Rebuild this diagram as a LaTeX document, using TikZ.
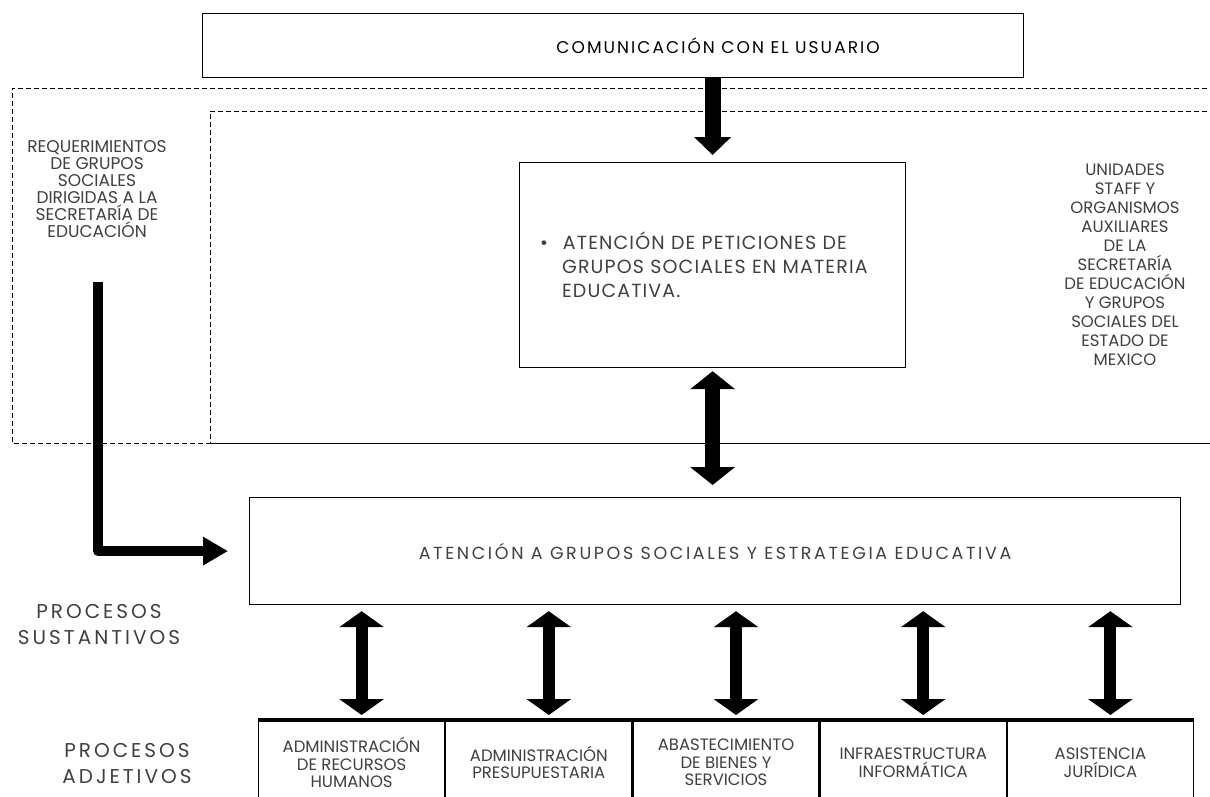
\documentclass[tikz,border=0pt]{standalone}
\usepackage{fontspec}
\setmainfont{Poppins}
\newfontfamily\tracksmall[LetterSpace=6]{Poppins}
\newfontfamily\trackmid[LetterSpace=12]{Poppins}
\newfontfamily\trackwide[LetterSpace=15]{Poppins}
\usetikzlibrary{arrows.meta, positioning}

\tikzset{
  box/.style={draw, line width=1.2pt, inner sep=0pt, anchor=north west},
  cell/.style={draw, line width=1.2pt, inner sep=0pt, anchor=north west,
    minimum width=186pt, minimum height=84pt, font=\fontsize{16.5}{17.5}\selectfont},
  fatarrow/.style={line width=16pt, -{Triangle[width=36pt, length=18pt]}},
  twoway/.style={line width=15pt, {Triangle[width=44pt, length=18pt]}-{Triangle[width=44pt, length=18pt]}},
  smallway/.style={line width=12pt, {Triangle[width=44pt, length=16pt]}-{Triangle[width=44pt, length=16pt]}},
  elbowarrow/.style={line width=10pt, line join=round, -{Triangle[width=27pt, length=25pt]}},
  area/.style={line width=0.8pt, dash pattern=on 5pt off 3pt}
}

\begin{document}
\begin{tikzpicture}[x=1pt, y=-1pt, every node/.style={align=center, text=black!75}]
\useasboundingbox (0,0) rectangle (1210,796);
\fill[white] (0,0) rectangle (1210,796);

% zonas punteadas
\draw[area] (1215,88) -- (12,88) -- (12,443) -- (210,443);
\draw[area] (1215,111) -- (210,111) -- (210,443);
\draw[line width=0.8pt] (210,443) -- (1215,443);

\node (usuario) [box, minimum width=821pt, minimum height=64pt, text=black,
  font=\trackmid\fontsize{17}{20}\selectfont] at (202,13) {\hspace*{210pt}COMUNICACIÓN CON EL USUARIO};
\node (peticiones) [box, minimum width=386pt, minimum height=205pt, align=left, text width=345pt,
  font=\tracksmall\fontsize{19}{24}\selectfont] at (519,162)
  {\textbullet\hspace{15pt}ATENCIÓN DE PETICIONES DE\\
   \hspace*{22pt}GRUPOS SOCIALES EN MATERIA\\
   \hspace*{22pt}EDUCATIVA.};
\node (atencion) [box, minimum width=931pt, minimum height=107pt,
  font=\trackwide\fontsize{17.5}{20}\selectfont] at (249,497)
  {ATENCIÓN A GRUPOS SOCIALES Y ESTRATEGIA EDUCATIVA};

\node (req) at (97,189) [font=\fontsize{17}{17}\selectfont]
  {REQUERIMIENTOS\\DE GRUPOS\\SOCIALES\\DIRIGIDAS A LA\\SECRETARÍA DE\\EDUCACIÓN};
\node (staff) at (1125,265) [font=\fontsize{16.5}{19}\selectfont]
  {UNIDADES\\STAFF Y\\ORGANISMOS\\AUXILIARES\\DE LA\\SECRETARÍA\\DE EDUCACIÓN\\Y GRUPOS\\SOCIALES DEL\\ESTADO DE\\MEXICO};

\node (sust) at (99,624) [font=\trackwide\fontsize{20}{26}\selectfont] {PROCESOS\\SUSTANTIVOS};
\node (adj) at (127,763) [font=\trackwide\fontsize{20}{26}\selectfont] {PROCESOS\\ADJETIVOS};

% procesos adjetivos
\node (rh) [cell] at (258,720) {ADMINISTRACIÓN\\DE RECURSOS\\HUMANOS};
\node (pres) [cell, right=0pt of rh] {ADMINISTRACIÓN\\PRESUPUESTARIA};
\node (bienes) [cell, right=0pt of pres] {ABASTECIMIENTO\\DE BIENES Y\\SERVICIOS};
\node (info) [cell, right=0pt of bienes] {INFRAESTRUCTURA\\INFORMÁTICA};
\node (jur) [cell, right=0pt of info] {ASISTENCIA\\JURÍDICA};
\draw[line width=4pt] (rh.north west) -- (jur.north east);

\coordinate (reqend) at (98,282);

\draw[fatarrow] (peticiones.north |- usuario.south) -- ([yshift=7pt]peticiones.north);
\draw[twoway, shorten <=3pt, shorten >=12pt] (peticiones.south) -- (peticiones.south |- atencion.north);
\draw[elbowarrow, shorten >=21pt] (reqend) |- (atencion.west);
\draw[smallway, shorten <=6pt, shorten >=5pt] ([xshift=10pt]rh.north |- atencion.south) -- ([xshift=10pt]rh.north);
\draw[smallway, shorten <=6pt, shorten >=5pt] ([xshift=10pt]pres.north |- atencion.south) -- ([xshift=10pt]pres.north);
\draw[smallway, shorten <=6pt, shorten >=5pt] ([xshift=10pt]bienes.north |- atencion.south) -- ([xshift=10pt]bienes.north);
\draw[smallway, shorten <=6pt, shorten >=5pt] ([xshift=10pt]info.north |- atencion.south) -- ([xshift=10pt]info.north);
\draw[smallway, shorten <=6pt, shorten >=5pt] ([xshift=10pt]jur.north |- atencion.south) -- ([xshift=10pt]jur.north);
\end{tikzpicture}
\end{document}
